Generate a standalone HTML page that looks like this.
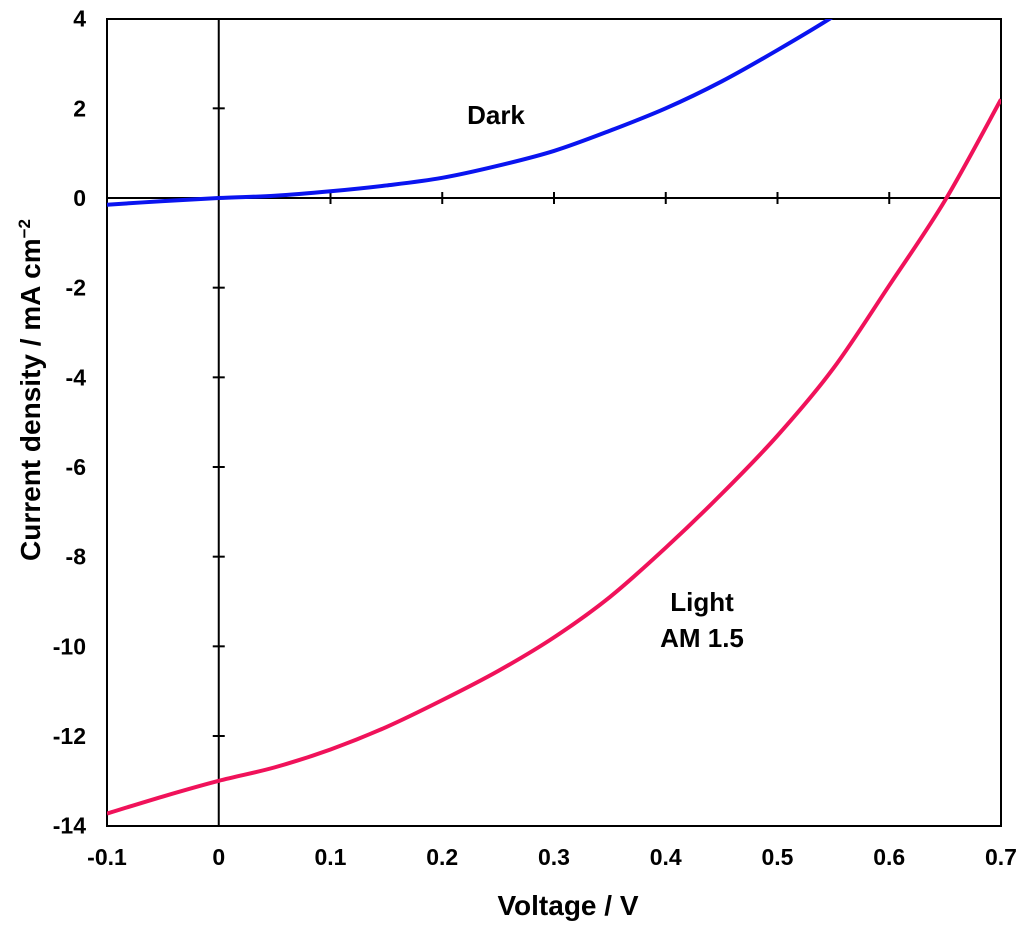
<!DOCTYPE html>
<html><head><meta charset="utf-8"><style>
body{margin:0;background:#fff}
svg text{font-family:"Liberation Sans",Arial,sans-serif;font-weight:bold;fill:#000}
</style></head><body>
<svg width="1024" height="929">
<defs><clipPath id="c"><rect x="107" y="19" width="894" height="807"/></clipPath></defs>
<g id="g"></g>
</svg>
<script>
const xTicks=[-0.1,0,0.1,0.2,0.3,0.4,0.5,0.6,0.7];
const xTickLabels=["-0.1","0","0.1","0.2","0.3","0.4","0.5","0.6","0.7"];
const yTicks=[4,2,0,-2,-4,-6,-8,-10,-12,-14];
const voltage=[-0.1,-0.05,0,0.05,0.1,0.15,0.2,0.25,0.3,0.35,0.4,0.45,0.5,0.55,0.6,0.65,0.7];
const lightJ=[-13.73,-13.35,-13.0,-12.7,-12.3,-11.8,-11.2,-10.55,-9.8,-8.9,-7.8,-6.6,-5.3,-3.8,-1.95,-0.05,2.2];
const darkJ=[-0.15,-0.07,0,0.05,0.15,0.28,0.45,0.72,1.05,1.5,2.0,2.6,3.3,4.05,4.9,5.8,6.8];
const X=v=>107+(v+0.1)*(894/0.8);
const Y=j=>198-j*(807/18);
const NS="http://www.w3.org/2000/svg";
const g=document.getElementById('g');
function el(t,a,txt){const e=document.createElementNS(NS,t);for(const k in a)e.setAttribute(k,a[k]);if(txt!==undefined)e.textContent=txt;g.appendChild(e);return e;}
let e;
e=el('rect',{x:107,y:19,width:894,height:807,fill:'none',stroke:'#000','stroke-width':2});


e=el('line',{x1:107,x2:1001,y1:Y(0),y2:Y(0),stroke:'#000','stroke-width':2});


e=el('line',{x1:X(0),x2:X(0),y1:19,y2:826,stroke:'#000','stroke-width':2});


xTicks.forEach((v,i)=>{
 if(v>-0.1&&v<0.7&&v!==0){e=el('line',{x1:X(v),x2:X(v),y1:Y(0)-6,y2:Y(0)+6,stroke:'#000','stroke-width':2});
 
 }
 e=el('text',{x:X(v),y:865,'text-anchor':'middle','font-size':23},xTickLabels[i]);
 
 
});
yTicks.forEach(j=>{
 if(j<4&&j>-14&&j!==0){e=el('line',{x1:X(0)-6,x2:X(0)+6,y1:Y(j),y2:Y(j),stroke:'#000','stroke-width':2});
 
 }
 e=el('text',{x:86,y:Y(j)+8,'text-anchor':'end','font-size':23},String(j));
 
 
});
function path(vs){const p=voltage.map((v,i)=>[X(v),Y(vs[i])]);let d='M'+p[0];
 for(let i=0;i<p.length-1;i++){const a=p[Math.max(0,i-1)],b=p[i],c=p[i+1],n=p[Math.min(p.length-1,i+2)];
 d+=' C'+(b[0]+(c[0]-a[0])/6)+','+(b[1]+(c[1]-a[1])/6)+' '+(c[0]-(n[0]-b[0])/6)+','+(c[1]-(n[1]-b[1])/6)+' '+c;}return d;}
e=el('path',{d:path(darkJ),fill:'none',stroke:'#0a14f0','stroke-width':4,'clip-path':'url(#c)'});


e=el('path',{d:path(lightJ),fill:'none',stroke:'#f0125a','stroke-width':4,'clip-path':'url(#c)'});


e=el('text',{x:496,y:124,'text-anchor':'middle','font-size':26},'Dark');


e=el('text',{x:702,y:611,'text-anchor':'middle','font-size':26},'Light');


e=el('text',{x:702,y:647,'text-anchor':'middle','font-size':26},'AM 1.5');


e=el('text',{x:568,y:915,'text-anchor':'middle','font-size':28},'Voltage / V');


e=el('text',{x:0,y:0,'text-anchor':'middle','font-size':28,transform:'translate(40,390) rotate(-90)'});
e.innerHTML='Current density / mA cm<tspan dy="-10" font-size="17">−2</tspan>';


</script>
</body></html>
